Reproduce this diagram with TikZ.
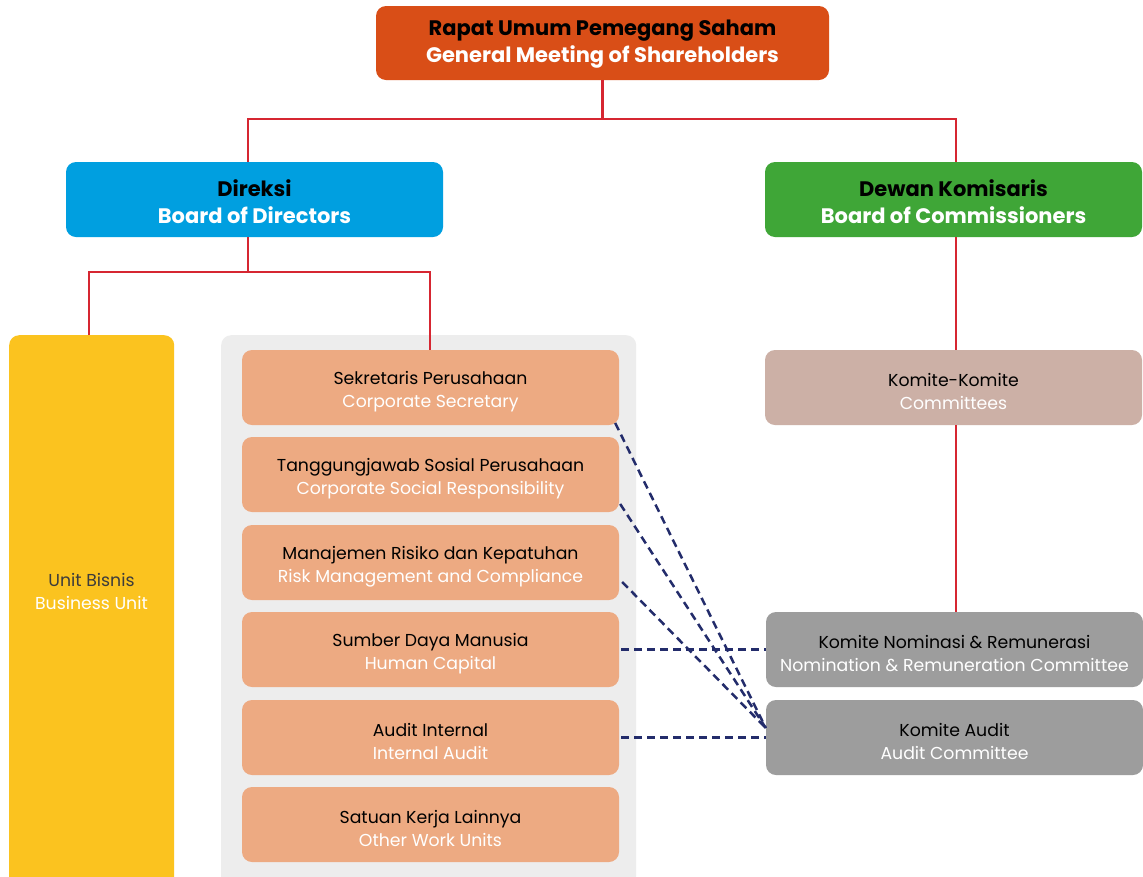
\documentclass[tikz,border=0pt]{standalone}
\usepackage{fontspec}
\setmainfont{Poppins}
\usetikzlibrary{calc}
\definecolor{rupsC}{HTML}{D94E17}
\definecolor{dirC}{HTML}{009FE0}
\definecolor{dewC}{HTML}{3FA637}
\definecolor{unitC}{HTML}{FBC31F}
\definecolor{contC}{HTML}{EDEDED}
\definecolor{oraC}{HTML}{EDAA82}
\definecolor{komC}{HTML}{CCB0A6}
\definecolor{grayC}{HTML}{9D9D9D}
\definecolor{redC}{HTML}{D62631}
\definecolor{navyC}{HTML}{232C6B}
\definecolor{darkT}{HTML}{3C3C3C}
\tikzset{
  boxbase/.style={rounded corners=10pt, minimum width=377pt, minimum height=75pt, inner sep=0pt},
  boldtext/.style={align=center, inner sep=0pt, font=\fontsize{21}{27}\selectfont\bfseries},
  plaintext/.style={align=center, inner sep=0pt, font=\fontsize{17.3}{23}\selectfont},
  orgline/.style={draw=redC, line width=2.6pt},
  dashline/.style={draw=navyC, line width=2.5pt, dash pattern=on 8pt off 5pt},
}
\newcommand{\twol}[3][black]{{\color{#1}#2}\\{\color{white}#3}}
% #1 name, #2 fill, #3 position, #4 first line, #5 second line
\newcommand{\topbox}[5]{%
  \node[boxbase, fill=#2] (#1) at (#3) {};
  \node[boldtext] (#1-t) at ($(#1)+(0,2)$) {\twol{#4}{#5}};}
\newcommand{\subbox}[5]{%
  \node[boxbase, fill=#2] (#1) at (#3) {};
  \node[plaintext] (#1-t) at ($(#1)+(0,4)$) {\twol{#4}{#5}};}
\begin{document}
\begin{tikzpicture}[x=1pt,y=-1pt]
\clip (0,0) rectangle (1143,876);
\fill[white] (0,0) rectangle (1143,876);
% containers
\node[fill=contC, rounded corners=10pt, minimum width=415pt, minimum height=565pt, inner sep=0pt, anchor=north west] (cont) at (221,335) {};
\node[fill=unitC, rounded corners=10pt, minimum width=165pt, minimum height=565pt, inner sep=0pt, anchor=north west] (unit) at (9,335) {};
\node[plaintext] (unit-t) at (91.5,591) {\twol[darkT]{Unit Bisnis}{Business Unit}};
% top boxes
\node[boxbase, fill=rupsC, minimum width=453pt, minimum height=74pt] (rups) at (602.5,43) {};
\node[boldtext] (rups-t) at ($(rups)+(0,1)$) {\twol{Rapat Umum Pemegang Saham}{General Meeting of Shareholders}};
\topbox{direksi}{dirC}{254.5,199.5}{Direksi}{Board of Directors}
\topbox{dewan}{dewC}{953.5,199.5}{Dewan Komisaris}{Board of Commissioners}
% orange units
\subbox{sek}{oraC}{430.5,387.5}{Sekretaris Perusahaan}{Corporate Secretary}
\subbox{csr}{oraC}{430.5,474.5}{Tanggungjawab Sosial Perusahaan}{Corporate Social Responsibility}
\subbox{risk}{oraC}{430.5,562.5}{Manajemen Risiko dan Kepatuhan}{Risk Management and Compliance}
\subbox{hc}{oraC}{430.5,649.5}{Sumber Daya Manusia}{Human Capital}
\subbox{ia}{oraC}{430.5,737.5}{Audit Internal}{Internal Audit}
\subbox{other}{oraC}{430.5,824.5}{Satuan Kerja Lainnya}{Other Work Units}
% committees
\subbox{komite}{komC}{953.5,387.5}{Komite-Komite}{Committees}
\subbox{nom}{grayC}{954.5,649.5}{Komite Nominasi \& Remunerasi}{Nomination \& Remuneration Committee}
\subbox{audit}{grayC}{954.5,737.5}{Komite Audit}{Audit Committee}
% connectors
\coordinate (jtop) at (602.5,119);
\coordinate (jl) at (248,119);
\coordinate (jr) at (956,119);
\coordinate (jd) at (248,272);
\coordinate (ju) at (89,272);
\coordinate (js) at (430,272);
\draw[orgline] (rups.south) -- (jtop);
\draw[orgline] (jl |- direksi.north) -- (jl) -- (jr) -- (jr |- dewan.north);
\draw[orgline] (jd |- direksi.south) -- (jd);
\draw[orgline] (ju |- unit.north) -- (ju) -- (js) -- (js |- sek.north);
\draw[orgline] (jr |- dewan.south) -- (jr |- komite.north);
\draw[orgline] (jr |- komite.south) -- (jr |- nom.north);
% dashed
\draw[dashline] ($(sek.east)+(-4,35.5)$) -- ($(audit.west)+(0,-9.5)$);
\draw[dashline] ($(csr.east)+(1,29.5)$) -- ($(audit.west)+(0,-9.5)$);
\draw[dashline] ($(risk.east)+(3,19.5)$) -- ($(audit.west)+(0,-9.5)$);
\draw[dashline] ($(hc.east)+(2,0)$) -- (hc.east -| nom.west);
\draw[dashline] ($(ia.east)+(2,0)$) -- (audit.west);
\end{tikzpicture}
\end{document}
